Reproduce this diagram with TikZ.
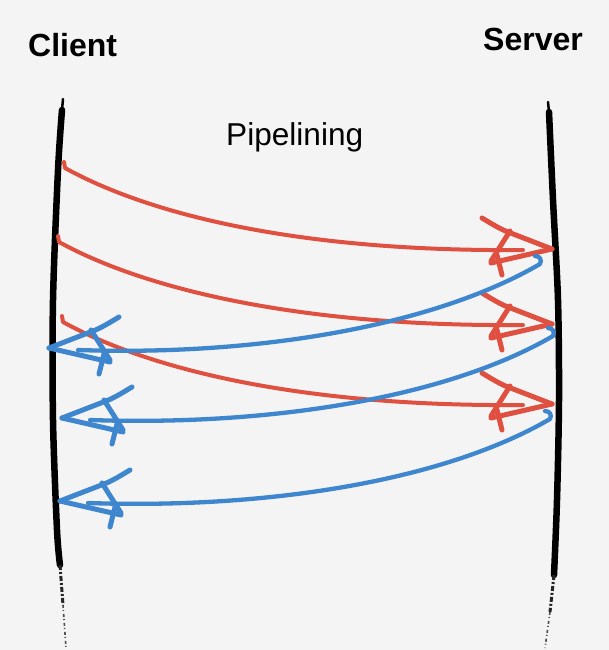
\documentclass[tikz,border=0pt]{standalone}
\usepackage{fontspec}
\setmainfont{Liberation Sans}
\definecolor{bgcol}{HTML}{F4F4F4}
\definecolor{sred}{HTML}{E05040}
\definecolor{sblue}{HTML}{3E86CE}
\tikzset{
  lifeline/.style={line width=6.5pt, line cap=round, line join=round, black},
  lifetip/.style={line width=2.5pt, line cap=round, black},
  fadeline/.style={line width=3pt, dash pattern=on 5pt off 2pt on 2pt off 2pt, black!85},
  fadeline2/.style={line width=1.6pt, dash pattern=on 3pt off 2pt on 1pt off 3pt, black!70},
  redshaft/.style={draw=sred, line width=4pt, line cap=round, line join=round},
  blueshaft/.style={draw=sblue, line width=4.3pt, line cap=round, line join=round},
  redhead/.style={color=sred, draw=sred, line width=5pt, line cap=round, line join=round},
  bluehead/.style={color=sblue, draw=sblue, line width=5pt, line cap=round, line join=round, xscale=-1},
  sketchhead/.pic={
    \draw[pic actions] (-70,-31) .. controls (-60,-25) and (-52,-20) .. (-44,-17) -- (0,0);
    \draw[pic actions] (-42,-18) -- (-61,12);
    \draw[pic actions] (-61,14) -- (0,0);
    \draw[pic actions] (-55,6) -- (-50,26);
  },
  lblbold/.style={font=\fontsize{32}{38}\selectfont\bfseries, inner sep=0pt, anchor=base west},
  lblplain/.style={font=\fontsize{31.6}{37}\selectfont, inner sep=0pt, anchor=base west},
}
\begin{document}
\begin{tikzpicture}[x=1pt,y=-1pt]
\fill[bgcol] (0,0) rectangle (609,650);
\useasboundingbox (0,0) rectangle (609,650);

% labels
\node[lblbold] (client) at (28,57) {Client};
\node[lblbold] (server) at (483,51) {Server};
\node[lblplain] (pipe) at (226,146) {Pipelining};

% client lifeline
\coordinate (cA) at (63,99);
\coordinate (c0) at (62,110);
\coordinate (c1) at (58,170);
\coordinate (c2) at (53,300);
\coordinate (c3) at (53,420);
\coordinate (c4) at (57,530);
\coordinate (c5) at (60,565);
\coordinate (c6) at (63,605);
\coordinate (c7) at (66,648);
\draw[lifetip] (cA) -- (c0);
\draw[lifeline] plot[smooth] coordinates {(c0) (c1) (c2) (c3) (c4) (c5)};
\draw[fadeline] (c5) -- (c6);
\draw[fadeline2] (c6) -- (c7);

% server lifeline
\coordinate (sA) at (548,102);
\coordinate (s0) at (549,112);
\coordinate (s1) at (553,200);
\coordinate (s2) at (558,300);
\coordinate (s3) at (559,400);
\coordinate (s4) at (557,500);
\coordinate (s5) at (554,575);
\coordinate (s6) at (550,612);
\coordinate (s7) at (545,648);
\draw[lifetip] (sA) -- (s0);
\draw[lifeline] plot[smooth] coordinates {(s0) (s1) (s2) (s3) (s4) (s5)};
\draw[fadeline] (s5) -- (s6);
\draw[fadeline2] (s6) -- (s7);

% red requests
\coordinate (r1a) at (64,162); \coordinate (r1s) at (65,168);
\coordinate (r1e) at (523,250); \coordinate (r1t) at (552,249);
\coordinate (r2a) at (58,236); \coordinate (r2s) at (59,242);
\coordinate (r2e) at (523,325); \coordinate (r2t) at (552,324);
\coordinate (r3a) at (62,316); \coordinate (r3s) at (63,322);
\coordinate (r3e) at (523,405); \coordinate (r3t) at (552,404);

\draw[redshaft] (r1a) -- (r1s) .. controls +(85,47) and +(-223,2) .. (r1e);
\pic[redhead] at (r1t) {sketchhead};
\draw[redshaft] (r2a) -- (r2s) .. controls +(85,47) and +(-223,2) .. (r2e);
\pic[redhead] at (r2t) {sketchhead};
\draw[redshaft] (r3a) -- (r3s) .. controls +(85,47) and +(-223,2) .. (r3e);
\pic[redhead] at (r3t) {sketchhead};

% blue responses
\coordinate (b1a) at (535,256); \coordinate (b1s) at (540,264);
\coordinate (b1e) at (78,350); \coordinate (b1t) at (49,348);
\coordinate (b2a) at (548,328); \coordinate (b2s) at (553,336);
\coordinate (b2e) at (90,420); \coordinate (b2t) at (62,418);
\coordinate (b3a) at (545,411); \coordinate (b3s) at (550,419);
\coordinate (b3e) at (88,503); \coordinate (b3t) at (60,501);

\draw[blueshaft] (b1a) .. controls +(5,0) and +(2,-4) .. (b1s) .. controls +(-110,64) and +(172,6) .. (b1e);
\pic[bluehead] at (b1t) {sketchhead};
\draw[blueshaft] (b2a) .. controls +(5,0) and +(2,-4) .. (b2s) .. controls +(-110,64) and +(172,6) .. (b2e);
\pic[bluehead] at (b2t) {sketchhead};
\draw[blueshaft] (b3a) .. controls +(5,0) and +(2,-4) .. (b3s) .. controls +(-110,64) and +(172,6) .. (b3e);
\pic[bluehead] at (b3t) {sketchhead};
\end{tikzpicture}
\end{document}
